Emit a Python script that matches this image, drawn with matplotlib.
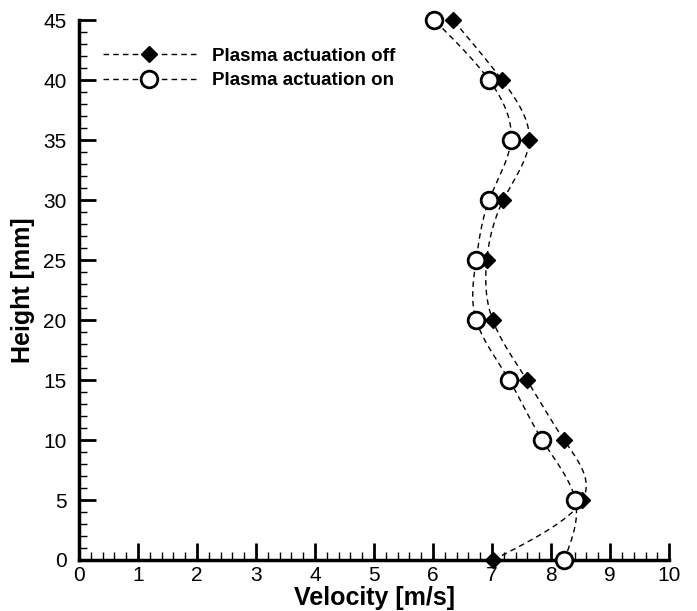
import numpy as np
import matplotlib.pyplot as plt
from matplotlib.ticker import MultipleLocator

plt.rcParams['font.family'] = ['Liberation Sans', 'DejaVu Sans']

# Altura [mm] e velocidades [m/s]
altura = [0, 5, 10, 15, 20, 25, 30, 35, 40, 45]
vel_off = [7.02, 8.53, 8.22, 7.59, 7.01, 6.91, 7.19, 7.63, 7.17, 6.34]
vel_on = [8.22, 8.41, 7.85, 7.29, 6.73, 6.73, 6.95, 7.32, 6.95, 6.02]


def spline_natural(y, x, n=400):
    # spline cubica natural x(y), so para desenhar a curva suave
    y = np.asarray(y, float)
    x = np.asarray(x, float)
    m = len(y)
    h = np.diff(y)
    A = np.zeros((m, m))
    b = np.zeros(m)
    A[0, 0] = A[-1, -1] = 1
    for i in range(1, m - 1):
        A[i, i - 1] = h[i - 1]
        A[i, i] = 2 * (h[i - 1] + h[i])
        A[i, i + 1] = h[i]
        b[i] = 6 * ((x[i + 1] - x[i]) / h[i] - (x[i] - x[i - 1]) / h[i - 1])
    M = np.linalg.solve(A, b)
    yy = np.linspace(y[0], y[-1], n)
    k = np.clip(np.searchsorted(y, yy) - 1, 0, m - 2)
    t0 = yy - y[k]
    t1 = y[k + 1] - yy
    hk = h[k]
    xx = (M[k] * t1**3 + M[k + 1] * t0**3) / (6 * hk) \
        + (x[k] / hk - M[k] * hk / 6) * t1 + (x[k + 1] / hk - M[k + 1] * hk / 6) * t0
    return xx, yy


fig = plt.figure(figsize=(6.97, 6.11), dpi=100)
ax = fig.add_axes([0.1133, 0.0835, 0.8467, 0.8835])

xs, ys = spline_natural(altura, vel_off)
ax.plot(xs, ys, 'k--', lw=1, dashes=(4, 3))
xs, ys = spline_natural(altura, vel_on)
ax.plot(xs, ys, 'k--', lw=1, dashes=(4, 3))

ax.plot(vel_off, altura, 'D', color='k', ms=8, clip_on=False, zorder=3)
ax.plot(vel_on, altura, 'o', mfc='white', mec='k', mew=2, ms=12, clip_on=False, zorder=3)

# entradas da legenda
h1, = ax.plot([], [], 'k--', marker='D', ms=8, lw=1, dashes=(4, 3))
h2, = ax.plot([], [], 'k--', marker='o', mfc='white', mec='k', mew=2, ms=12, lw=1, dashes=(4, 3))
leg = ax.legend([h1, h2], ['Plasma actuation off', 'Plasma actuation on'],
                loc='upper left', bbox_to_anchor=(0.04, 0.949), frameon=False,
                borderaxespad=0, borderpad=0,
                prop={'weight': 'bold', 'size': 13.5}, handlelength=5,
                labelspacing=0.4, handletextpad=0.85)

ax.set_xlim(0, 10)
ax.set_ylim(0, 45)
ax.xaxis.set_major_locator(MultipleLocator(1))
ax.xaxis.set_minor_locator(MultipleLocator(0.2))
ax.yaxis.set_major_locator(MultipleLocator(5))
ax.yaxis.set_minor_locator(MultipleLocator(1))
ax.tick_params(which='major', direction='in', length=12, width=2, labelsize=15)
ax.tick_params(axis='x', which='major', pad=4)
ax.tick_params(axis='y', which='major', pad=9)
ax.tick_params(which='minor', direction='in', length=6, width=1)
for s in ['top', 'right']:
    ax.spines[s].set_visible(False)
for s in ['left', 'bottom']:
    ax.spines[s].set_linewidth(2.5)

ax.set_xlabel('Velocity [m/s]', fontsize=18, fontweight='bold', labelpad=1)
ax.set_ylabel('Height [mm]', fontsize=18, fontweight='bold', labelpad=6)

plt.savefig('out.png', dpi=100)
